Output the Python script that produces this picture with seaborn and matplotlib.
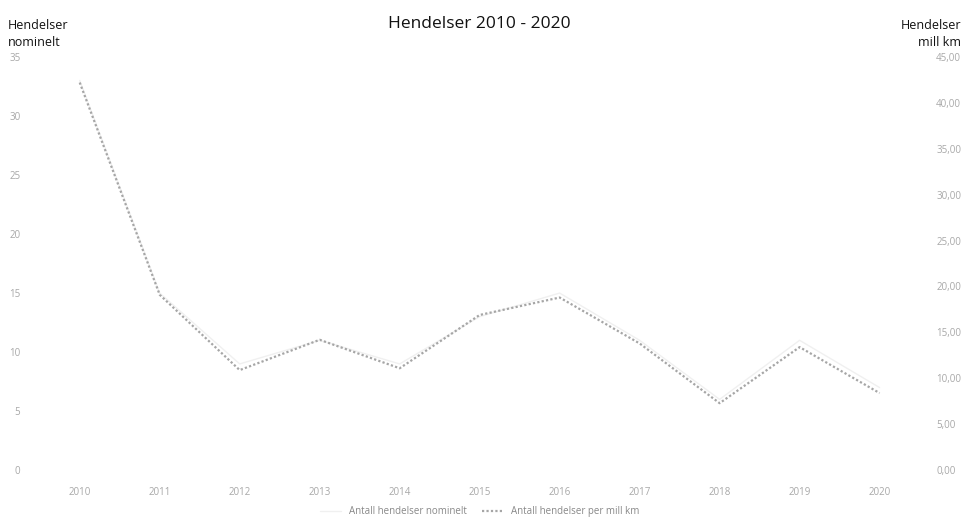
import numpy as np
import pandas as pd
import matplotlib
matplotlib.use('Agg')
import matplotlib.pyplot as plt
import seaborn as sns

sns.set_style('white')
plt.rcParams['font.family'] = ['Open Sans', 'DejaVu Sans']

years = [2010, 2011, 2012, 2013, 2014, 2015, 2016, 2017, 2018, 2019, 2020]
nominelt = [33, 15, 9, 11, 9, 13, 15, 11, 6, 11, 7]
per_mill_km = [42.2, 19.1, 10.9, 14.2, 11.1, 16.9, 18.8, 13.8, 7.3, 13.4, 8.4]

df = pd.DataFrame({'year': years, 'nominelt': nominelt, 'per_mill_km': per_mill_km})

fig = plt.figure(figsize=(9.69, 5.26), dpi=100)
ax = fig.add_axes([0.041, 0.106, 0.908, 0.786])
ax2 = ax.twinx()

# nominal count, left axis (almost invisible in the reference)
sns.lineplot(data=df, x='year', y='nominelt', ax=ax, color='#f0f0f0', lw=1.0,
             label='Antall hendelser nominelt', legend=False)
# per mill km, right axis (dotted grey)
sns.lineplot(data=df, x='year', y='per_mill_km', ax=ax2, color='#a6a6a6', lw=1.6,
             linestyle=(0, (1, 1)), label='Antall hendelser per mill km', legend=False)

ax.set_xlim(2009.5, 2020.5)
ax.set_ylim(0, 35)
ax.set_yticks(range(0, 36, 5))
ax2.set_ylim(0, 45)
ax2.set_yticks(range(0, 46, 5))
ax2.set_yticklabels([f'{v:.2f}'.replace('.', ',') for v in range(0, 46, 5)])
ax.set_xticks(years)
ax.set_xticklabels([str(y) for y in years])

for a in (ax, ax2):
    for s in a.spines.values():
        s.set_visible(False)
    a.tick_params(length=0, labelsize=7, labelcolor='#a8a8a8')
    a.set_xlabel('')
    a.set_ylabel('')
ax.tick_params(axis='y', pad=14)
ax.tick_params(axis='x', pad=12)
ax2.tick_params(axis='y', pad=12)

fig.text(0.495, 0.955, 'Hendelser 2010 - 2020', ha='center', va='center', fontsize=12.5,
         color='#111111')
fig.text(0.008, 0.935, 'Hendelser\nnominelt', ha='left', va='center', fontsize=9,
         color='#111111', linespacing=1.4)
fig.text(0.992, 0.935, 'Hendelser\nmill km', ha='right', va='center', fontsize=9,
         color='#111111', linespacing=1.4, multialignment='right')

h1, l1 = ax.get_legend_handles_labels()
h2, l2 = ax2.get_legend_handles_labels()
fig.legend(h1 + h2, l1 + l2, loc='center', bbox_to_anchor=(0.495, 0.027), ncol=2,
           frameon=False, fontsize=7, labelcolor='#888888', handlelength=2.2,
           columnspacing=1.5)

fig.savefig('out.png', dpi=100)
